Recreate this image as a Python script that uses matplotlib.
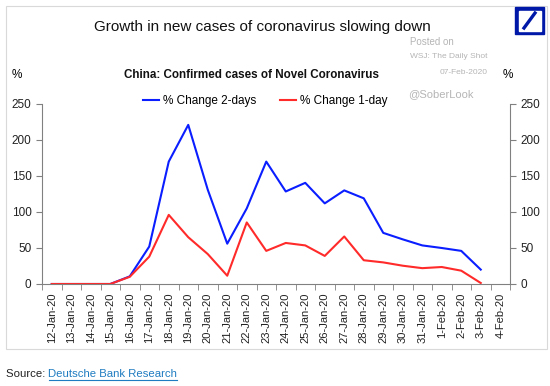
import matplotlib
matplotlib.use('Agg')
import matplotlib.pyplot as plt
import matplotlib.patches as patches
from matplotlib.lines import Line2D
import numpy as np

plt.rcParams['font.family'] = ['Liberation Sans', 'DejaVu Sans']

# data
dates = ['12-Jan-20', '13-Jan-20', '14-Jan-20', '15-Jan-20', '16-Jan-20', '17-Jan-20',
         '18-Jan-20', '19-Jan-20', '20-Jan-20', '21-Jan-20', '22-Jan-20', '23-Jan-20',
         '24-Jan-20', '25-Jan-20', '26-Jan-20', '27-Jan-20', '28-Jan-20', '29-Jan-20',
         '30-Jan-20', '31-Jan-20', '1-Feb-20', '2-Feb-20', '3-Feb-20', '4-Feb-20']
change_2d = [0, 0, 0, 0, 10.6, 52, 170, 221, 131, 56, 105, 170,
             128.5, 140.5, 112, 130, 119, 71, 62, 53.6, 50, 46, 20, np.nan]
change_1d = [0, 0, 0, 0, 10, 38, 96, 65, 41.6, 11.5, 85.5, 46,
             57, 53.6, 39, 66, 33, 30, 25.4, 22, 23.6, 18.5, 1.4, np.nan]
yticks = [0, 50, 100, 150, 200, 250]

W, H = 550, 386
fig = plt.figure(figsize=(W / 100, H / 100), dpi=100)

def fx(px):
    return px / W

def fy(py):
    return 1 - py / H

# light frame round the chart
fig.patches.append(patches.Rectangle((fx(6), fy(349)), fx(541), 343 / H,
                                     transform=fig.transFigure, fill=False,
                                     edgecolor='#d9d9d9', lw=0.8))

ax = fig.add_axes([fx(42), fy(284), fx(468), 180 / H])
x = np.arange(len(dates))
ax.plot(x, change_2d, color='#0a1eff', lw=1.5, label='% Change 2-days')
ax.plot(x, change_1d, color='#ff2a2a', lw=1.5, label='% Change 1-day')

ax.set_xlim(-0.5, len(dates) - 0.5)
ax.set_ylim(0, 250)
ax.set_yticks(yticks)
ax.set_xticks(x)
ax.set_xticklabels(dates, rotation=90, fontsize=8)
ax.set_xticks(np.arange(-0.5, len(dates)), minor=True)
ax.tick_params(axis='x', which='major', length=0, pad=6, colors='#222222')
ax.tick_params(axis='x', which='minor', length=4, direction='out', color='#808080')
ax.tick_params(axis='y', which='major', length=4, direction='out', color='#808080',
               labelsize=8.5, left=True, right=True, labelleft=True, labelright=True,
               labelcolor='#222222')
for s in ['left', 'right', 'bottom']:
    ax.spines[s].set_color('#808080')
ax.spines['top'].set_visible(False)
ax.set_facecolor('none')

fig.legend(loc='center', ncol=2, frameon=False, fontsize=8.5,
           bbox_to_anchor=(fx(265), fy(101)), handlelength=1.4,
           handletextpad=0.3, columnspacing=2.0)

# titles
fig.text(fx(262), fy(27), 'Growth in new cases of coronavirus slowing down',
         ha='center', va='center', fontsize=11, color='#111111')
fig.text(fx(251), fy(75), 'China: Confirmed cases of Novel Coronavirus',
         ha='center', va='center', fontsize=8.4, fontweight='bold', color='#111111')
fig.text(fx(12), fy(75), '%', ha='left', va='center', fontsize=8.5)
fig.text(fx(503), fy(75), '%', ha='left', va='center', fontsize=8.5)

# watermark
fig.text(fx(410), fy(42), 'Posted on', fontsize=7, color='#b5b5b5', va='center')
fig.text(fx(410), fy(57), 'WSJ: The Daily Shot', fontsize=6, color='#b5b5b5', va='center')
fig.text(fx(488), fy(72), '07-Feb-2020', fontsize=6, color='#b5b5b5', va='center', ha='right')
fig.text(fx(408), fy(94), '@SoberLook', fontsize=8, color='#b5b5b5', va='center')

# logo
fig.patches.append(patches.Rectangle((fx(515), fy(34)), fx(29), 27 / H,
                                     transform=fig.transFigure, color='#0018a8'))
fig.patches.append(patches.Rectangle((fx(518.5), fy(30.5)), fx(22), 20 / H,
                                     transform=fig.transFigure, color='white'))
fig.lines.append(Line2D([fx(524), fx(535)], [fy(28), fy(13)],
                        transform=fig.transFigure, color='#0018a8', lw=2.4))

# source line
t1 = fig.text(fx(6), fy(374), 'Source: ', fontsize=8.2, color='#222222', va='center')
fig.canvas.draw()
bb = t1.get_window_extent()
t2 = fig.text(bb.x1 / W, fy(374), 'Deutsche Bank Research', fontsize=8.2,
              color='#1f7cc1', va='center')
fig.canvas.draw()
bb2 = t2.get_window_extent()
fig.lines.append(Line2D([bb2.x0 / W, bb2.x1 / W], [(bb2.y0 - 0.5) / H] * 2,
                        transform=fig.transFigure, color='#1f7cc1', lw=0.8))

fig.savefig('out.png', dpi=100)
